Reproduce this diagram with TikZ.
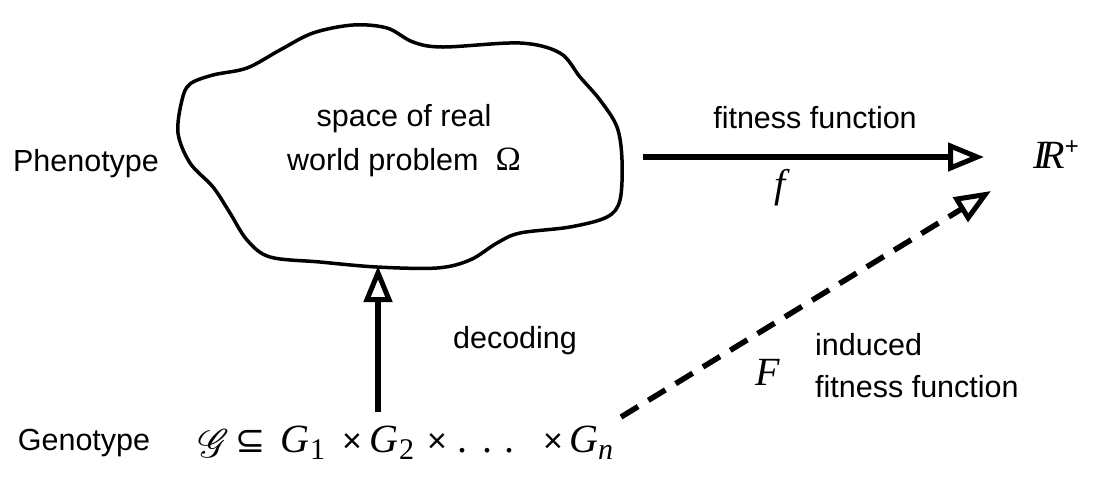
\documentclass[tikz,border=0pt]{standalone}
\usepackage{graphicx}
\usepackage{mathrsfs}
\usepackage{fontspec}
\setmainfont{Liberation Sans}
\newfontfamily\tms{Liberation Serif}
\newfontfamily\djv{DejaVu Sans}
\newcommand{\vi}[1]{{\tms\itshape #1}}
\newcommand{\subd}[1]{\raisebox{-7pt}{\fontsize{30}{30}\selectfont\tms #1}}
\newcommand{\tx}{{\fontsize{34}{34}\selectfont ×}}
\usetikzlibrary{arrows.meta}
\tikzset{
  lbl/.style={font=\fontsize{30.5}{44}\selectfont, inner sep=0pt, anchor=base},
  mth/.style={font=\fontsize{40}{44}\selectfont, inner sep=0pt, anchor=base},
  bigarrow/.style={line width=5.5pt, -{Triangle[open,length=36pt,width=28pt,line width=5pt]}},
  cloudline/.style={line width=3.5pt, line join=round}
}
\begin{document}
\begin{tikzpicture}[x=1pt,y=-1pt]
\useasboundingbox (0,0) rectangle (1094,491);
% cloud
\draw[cloudline] plot[smooth cycle, tension=0.55] coordinates {
 (178,133) (182,100) (190,84) (213,75) (247,68) (280,50) (313,33) (353,25) (387,28)
 (413,42) (443,47) (520,43) (560,53) (580,77) (600,100) (617,127) (622,160)
 (620,200) (607,217) (570,227) (520,233) (497,243) (470,260) (437,268) (377,267)
 (320,262) (270,257) (247,240) (230,213) (213,187) (190,163)};
\coordinate (cloudbot) at (378,266);
\coordinate (cloudright) at (643,157);
\node[align=center, font=\fontsize{30.5}{44}\selectfont, inner sep=0pt] (cloudtxt) at (404,141)
  {space of real\\world problem~~{\tms\fontsize{34}{44}\selectfont Ω}};
% labels
\node[lbl] (pheno) at (86,171) {Phenotype};
\node[lbl] (geno) at (84,450) {Genotype};
\node[lbl] (fitlbl) at (815,128) {fitness function};
\node[mth] (flbl) at (780,197) {\vi{f}};
\node[mth, anchor=base west] (rplus) at (1033,168) {\vi{I}\kern-6pt\vi{R}\raisebox{14pt}{\fontsize{24}{24}\selectfont +}};
\node[lbl] (dec) at (515,348) {decoding};
\node[mth, anchor=base west] (expr) at (198,452)
  {\makebox[37pt][l]{\raisebox{-5pt}{\scalebox{1.6}{$\mathscr{G}$}}}%
   \makebox[45pt][l]{\djv\fontsize{36}{40}\selectfont ⊆}%
   \makebox[62pt][l]{\vi{G}\kern1pt\subd{1}}%
   \makebox[27pt][l]{\tx}%
   \makebox[58pt][l]{\vi{G}\kern1pt\subd{2}}%
   \makebox[30pt][l]{\tx}%
   {\tms\makebox[25pt][l]{.}\makebox[22pt][l]{.}\makebox[39pt][l]{.}}%
   \makebox[26pt][l]{\tx}%
   \vi{G}\subd{\itshape n}};
\node[mth] (Flbl) at (768,385) {\vi{F}};
\node[lbl, anchor=base west] (ind1) at (815,355) {induced};
\node[lbl, anchor=base west] (ind2) at (815,397) {fitness function};
\coordinate (rtip) at (984,157);
\coordinate (dtip) at (991,191);
\coordinate (dstart) at (621,417);
\coordinate (ustart) at (378,412);
% arrows
\draw[bigarrow] (cloudright) -- (rtip);
\draw[bigarrow] (ustart) -- (cloudbot);
\draw[bigarrow, dash pattern=on 20pt off 12pt] (dstart) -- (dtip);
\end{tikzpicture}
\end{document}
